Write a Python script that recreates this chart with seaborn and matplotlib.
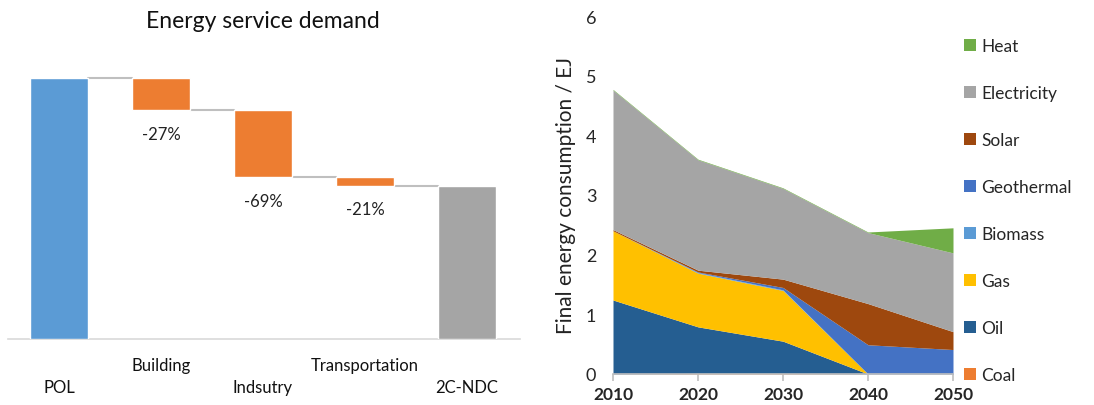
import matplotlib
matplotlib.use("Agg")
import matplotlib.pyplot as plt
from matplotlib.patches import Patch
import seaborn as sns
import numpy as np

# Waterfall: energy service demand
wf_categories = ["POL", "Building", "Indsutry", "Transportation", "2C-NDC"]
wf_start = 100.0
wf_drops = [12.3, 25.7, 3.3]
wf_labels = ["-27%", "-69%", "-21%"]

# Final energy consumption by carrier (EJ)
years = [2010, 2020, 2030, 2040, 2050]
carriers = ["Coal", "Oil", "Gas", "Biomass", "Geothermal", "Solar", "Electricity", "Heat"]
coal = [0.0, 0.01, 0.01, 0.0, 0.0]
oil = [1.24, 0.78, 0.54, 0.0, 0.0]
gas = [1.16, 0.90, 0.85, 0.0, 0.0]
biomass = [0.0, 0.01, 0.01, 0.0, 0.0]
geothermal = [0.0, 0.01, 0.04, 0.49, 0.41]
solar = [0.02, 0.03, 0.14, 0.69, 0.30]
electricity = [2.34, 1.85, 1.52, 1.19, 1.32]
heat = [0.01, 0.01, 0.01, 0.01, 0.42]
carrier_colors = ["#ED7D31", "#255E91", "#FFC000", "#5B9BD5",
                  "#4472C4", "#9E480E", "#A5A5A5", "#70AD47"]

sns.set_theme(style="white")
plt.rcParams["font.family"] = ["Lato", "DejaVu Sans"]

W, H = 1094, 406
fig = plt.figure(figsize=(W / 100, H / 100), dpi=100)
fig.patch.set_facecolor("white")

# ---------- left: waterfall ----------
ax1 = fig.add_axes([8 / W, (H - 340) / H, 512 / W, 300 / H])
ymax = 100 * 300 / 261
ax1.set_ylim(0, ymax)
ax1.set_xlim(-0.5, 4.52)
bw = 0.57

levels = [wf_start]
for d in wf_drops:
    levels.append(levels[-1] - d)
final = levels[-1]

ax1.bar(0, wf_start, width=bw, color="#5B9BD5", zorder=3)
for i, d in enumerate(wf_drops):
    ax1.bar(i + 1, d, bottom=levels[i] - d, width=bw, color="#ED7D31", zorder=3)
    ax1.text(i + 1, levels[i] - d - 9, wf_labels[i], ha="center", va="center",
             fontsize=12, color="#222222")
ax1.bar(4, final, width=bw, color="#A5A5A5", zorder=3)

for i in range(4):
    ax1.plot([i + bw / 2, i + 1 - bw / 2], [levels[i], levels[i]],
             color="#BFBFBF", lw=1.5, zorder=2)

for s in ["top", "right", "left"]:
    ax1.spines[s].set_visible(False)
ax1.spines["bottom"].set_color("#D9D9D9")
ax1.spines["bottom"].set_linewidth(1.2)
ax1.set_xticks([])
ax1.set_yticks([])
tr = ax1.get_xaxis_transform()
for i, c in enumerate(wf_categories):
    y = -0.086 if i % 2 == 1 else -0.16
    ax1.text(i, y, c, transform=tr, ha="center", va="center", fontsize=12,
             color="#111111")
ax1.text(0.498, 1.063, "Energy service demand", transform=ax1.transAxes,
         ha="center", va="center", fontsize=16.5, color="#111111")

# ---------- right: stacked area ----------
ax2 = fig.add_axes([613 / W, (H - 375) / H, 340 / W, 358 / H])
series = [coal, oil, gas, biomass, geothermal, solar, electricity, heat]
ax2.stackplot(years, *series, colors=carrier_colors, labels=carriers,
              linewidth=0)
ax2.set_xlim(2010, 2050)
ax2.set_ylim(0, 6)
ax2.set_xticks(years)
ax2.set_yticks(range(0, 7))
for s in ["top", "right", "left"]:
    ax2.spines[s].set_visible(False)
ax2.spines["bottom"].set_color("#BFBFBF")
ax2.spines["bottom"].set_linewidth(1.2)
ax2.tick_params(axis="x", direction="out", length=5, width=1.2, color="#BFBFBF",
                labelsize=12.5, pad=4, bottom=True)
ax2.tick_params(axis="y", length=0, labelsize=13, pad=12)
for lbl in ax2.get_xticklabels():
    lbl.set_fontweight("bold")
ax2.set_ylabel("Final energy consumption / EJ", fontsize=15, color="#222222",
               labelpad=7)

handles = [Patch(facecolor=c, edgecolor="none") for c in carrier_colors]
leg = fig.legend(handles[::-1], carriers[::-1], loc="upper left",
                 bbox_to_anchor=(957 / W, 1 - 32 / H), frameon=False,
                 fontsize=12.5, handlelength=0.7, handleheight=0.7,
                 handletextpad=0.3, labelspacing=1.79, borderaxespad=0)

fig.savefig("out.png", dpi=100, facecolor="white")
